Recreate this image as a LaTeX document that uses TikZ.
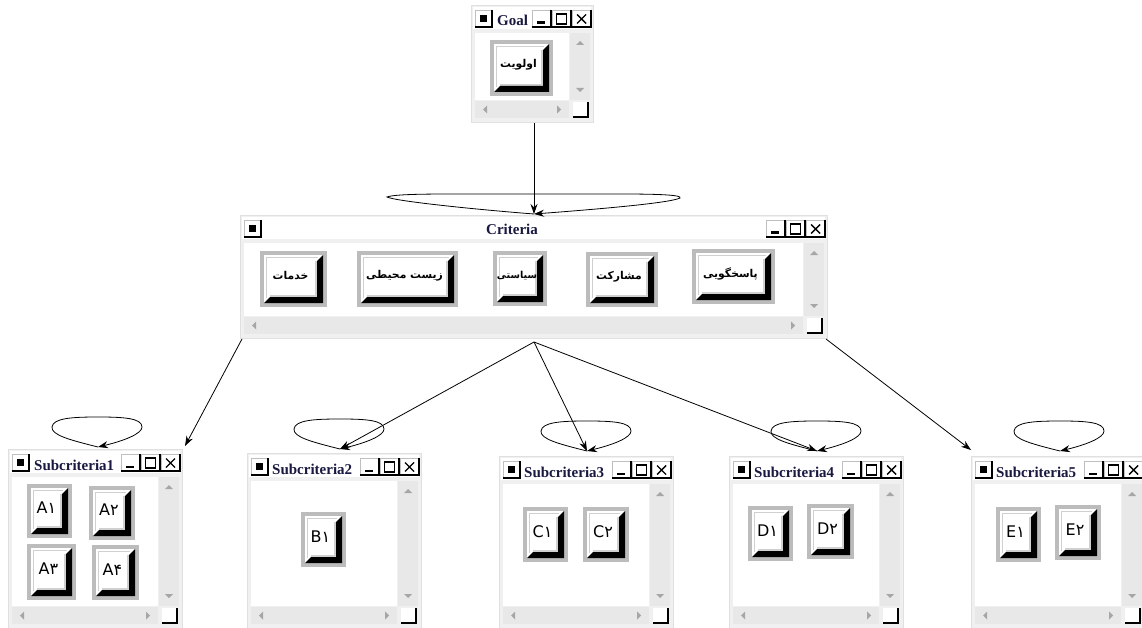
\documentclass[tikz,border=0pt]{standalone}
\usepackage{fontspec}
\setmainfont{Liberation Serif}
\newfontfamily\fa[Script=Arabic]{DejaVu Sans}
\newfontfamily\lab{DejaVu Sans}
\TeXXeTstate=1
\usetikzlibrary{arrows.meta,calc}
\definecolor{winframe}{HTML}{F0F0F0}
\definecolor{sbar}{HTML}{E8E8E8}
\definecolor{bbord}{HTML}{BCBCBC}
\definecolor{bev}{HTML}{D0D0D0}
\definecolor{ttl}{HTML}{181840}
\definecolor{arrg}{HTML}{A6A6A6}
\tikzset{
  ttext/.style={font=\fontsize{15}{16}\selectfont\bfseries, text=ttl, inner sep=0pt, anchor=base west},
  fatext/.style={font=\fa\fontsize{10.8}{13}\selectfont\bfseries, inner sep=0pt},
  fasmall/.style={font=\fa\fontsize{9.6}{12}\selectfont\bfseries, inner sep=0pt},
  latext/.style={font=\lab\fontsize{16}{18}\selectfont, inner sep=0pt},
  conn/.style={-{Stealth[length=10pt,width=7pt]}, line width=0.8pt},
  loopc/.style={-{Stealth[length=10pt,width=7pt]}, line width=0.8pt},
}
% title-bar button: x y w h
\newcommand\tbx[4]{%
  \fill[white] (#1,#2) rectangle ++(#3,#4);
  \draw[gray!50, line width=0.6pt] (#1,#2+#4) -- (#1,#2) -- (#1+#3,#2);
  \draw[black, line width=1.2pt] (#1+#3,#2) -- (#1+#3,#2+#4) -- (#1,#2+#4);
}
% window frame: L T R B
\newcommand\mywin[4]{%
  \fill[winframe] (#1,#2) rectangle (#3,#4);
  \draw[black!12] (#1,#2) rectangle (#3,#4);
  \fill[white] (#1+2,#2+2) rectangle (#3-2,#2+24);
  \tbx{#1+4}{#2+5}{17}{17}
  \fill[black] (#1+9,#2+10) rectangle ++(7,7);
  \tbx{#3-61}{#2+5}{19}{17}
  \fill[black] (#3-56,#2+16.5) rectangle ++(8,2.5);
  \tbx{#3-41}{#2+5}{19}{17}
  \draw[black, line width=1.1pt] (#3-36.5,#2+9) rectangle ++(10,10);
  \draw[black, line width=1.6pt] (#3-36.5,#2+9.5) -- ++(10,0);
  \tbx{#3-21}{#2+5}{19}{17}
  \draw[black, line width=1.4pt] (#3-16,#2+9.5) -- ++(9,9) (#3-7,#2+9.5) -- ++(-9,9);
  \fill[white] (#1+4,#2+28) rectangle (#3-24,#4-22);
  \fill[sbar] (#3-23,#2+28) rectangle (#3-3,#4-22);
  \fill[arrg] (#3-13,#2+36) -- ++(-4,4) -- ++(8,0) -- cycle;
  \fill[arrg] (#3-13,#4-30) -- ++(-4,-4) -- ++(8,0) -- cycle;
  \fill[sbar] (#1+4,#4-21) rectangle (#3-24,#4-4);
  \fill[arrg] (#1+12,#4-12.5) -- ++(4,-4) -- ++(0,8) -- cycle;
  \fill[arrg] (#3-32,#4-12.5) -- ++(-4,-4) -- ++(0,8) -- cycle;
  \fill[white] (#3-20,#4-20) rectangle (#3-5,#4-5);
  \draw[black, line width=1.2pt] (#3-5,#4-20) -- (#3-5,#4-5) -- (#3-20,#4-5);
}
% 3D button: name style x1 y1 x2 y2 text
\newcommand\mybtn[7]{%
  \fill[bbord] (#3,#4) rectangle (#5,#6);
  \fill[white] (#3+4,#4+4) rectangle (#5-4,#6-4);
  \draw[bev, line width=1.4pt] (#3+6.5,#6-9) -- (#3+6.5,#4+6.5) -- (#5-9,#4+6.5);
  \draw[bev, line width=1.2pt] (#5-11,#4+10) -- (#5-11,#6-11) -- (#3+10,#6-11);
  \fill[black] (#5-4,#4+4) -- (#5-4,#6-4) -- (#3+4,#6-4) -- (#3+10,#6-10) -- (#5-10,#6-10) -- (#5-10,#4+10) -- cycle;
  \node[#2] (#1) at ({(#3+#5)/2-3},{(#4+#6)/2-3}) {#7};
}
% self loop at named coordinate
\newcommand\sloop[1]{%
  \draw[loopc] (#1) .. controls ($(#1)+(-28,-7)$) and ($(#1)+(-47,-12)$) .. ($(#1)+(-46,-20)$)
    .. controls ($(#1)+(-45,-29)$) and ($(#1)+(-25,-30)$) .. ($(#1)+(0,-30)$)
    .. controls ($(#1)+(25,-30)$) and ($(#1)+(44,-29)$) .. ($(#1)+(44,-20)$)
    .. controls ($(#1)+(44,-13)$) and ($(#1)+(25,-6)$) .. (#1);
}
\begin{document}
\begin{tikzpicture}[x=1pt,y=-1pt]
\useasboundingbox (0,0) rectangle (1142,628);
\fill[white] (0,0) rectangle (1142,628);

% ---------- windows ----------
\mywin{471}{5}{593}{122}
\node[ttext] (goal) at (497,26) {Goal};
\mybtn{b-goal}{fatext}{490}{40}{553}{96}{\beginR اولویت\endR}

\mywin{240}{215}{827}{338}
\node[ttext, anchor=base] (crit) at (512,235) {Criteria};
\mybtn{b-khed}{fatext}{260}{251}{327}{307}{\beginR خدمات\endR}
\mybtn{b-zist}{fatext}{357}{251}{458}{307}{\beginR زیست محیطی\endR}
\mybtn{b-siy}{fasmall}{493}{251}{547}{306}{\beginR سیاستی\endR}
\mybtn{b-mosh}{fatext}{586}{252}{658}{307}{\beginR مشارکت\endR}
\mybtn{b-pas}{fatext}{692}{249}{775}{304}{\beginR پاسخگویی\endR}

\mywin{8}{449}{182}{628}
\node[ttext] (sub1) at (34,470) {Subcriteria1};
\mybtn{a1}{latext}{27}{484}{72}{538}{A۱}
\mybtn{a2}{latext}{89}{486}{135}{540}{A۲}
\mybtn{a3}{latext}{27}{544}{76}{600}{A۳}
\mybtn{a4}{latext}{92}{545}{139}{600}{A۴}

\mywin{247}{453}{421}{628}
\node[ttext] (sub2) at (272,474) {Subcriteria2};
\mybtn{b1}{latext}{301}{512}{346}{567}{B۱}

\mywin{499}{456}{673}{628}
\node[ttext] (sub3) at (524,477) {Subcriteria3};
\mybtn{c1}{latext}{523}{507}{568}{562}{C۱}
\mybtn{c2}{latext}{583}{507}{629}{562}{C۲}

\mywin{729}{456}{903}{628}
\node[ttext] (sub4) at (754,477) {Subcriteria4};
\mybtn{d1}{latext}{748}{506}{793}{561}{D۱}
\mybtn{d2}{latext}{807}{504}{854}{559}{D۲}

\mywin{971}{456}{1145}{628}
\node[ttext] (sub5) at (996,477) {Subcriteria5};
\mybtn{e1}{latext}{996}{507}{1041}{562}{E۱}
\mybtn{e2}{latext}{1055}{505}{1101}{560}{E۲}

% ---------- connector end points ----------
\coordinate (g-out) at (534,123);
\coordinate (c-in) at (534,214);
\coordinate (c-bl) at (242,339);
\coordinate (c-b) at (534,342);
\coordinate (c-br) at (826,339);
\coordinate (s1-in) at (98,447);
\coordinate (s1-x) at (185,446);
\coordinate (s2-in) at (340,449);
\coordinate (s3-in) at (587,451);
\coordinate (s4-in) at (817,451);
\coordinate (s5-in) at (1060,451);
\coordinate (s5-x) at (971,450);

% ---------- connectors ----------
\draw[conn] (g-out) -- (c-in);
\draw[loopc] (c-in) .. controls (470,209) and (395,201) .. (387,197)
  .. controls (395,194) and (430,194) .. (460,194) -- (620,194)
  .. controls (660,194) and (682,195) .. (680,198)
  .. controls (670,203) and (600,209) .. (c-in);
\draw[conn] (c-bl) -- (s1-x);
\draw[conn] (c-b) -- (s2-in);
\draw[conn] (c-b) -- (s3-in);
\draw[conn] (c-b) -- (s4-in);
\draw[conn] (c-br) -- (s5-x);
\sloop{s1-in}
\sloop{s2-in}
\sloop{s3-in}
\sloop{s4-in}
\sloop{s5-in}
\end{tikzpicture}
\end{document}
